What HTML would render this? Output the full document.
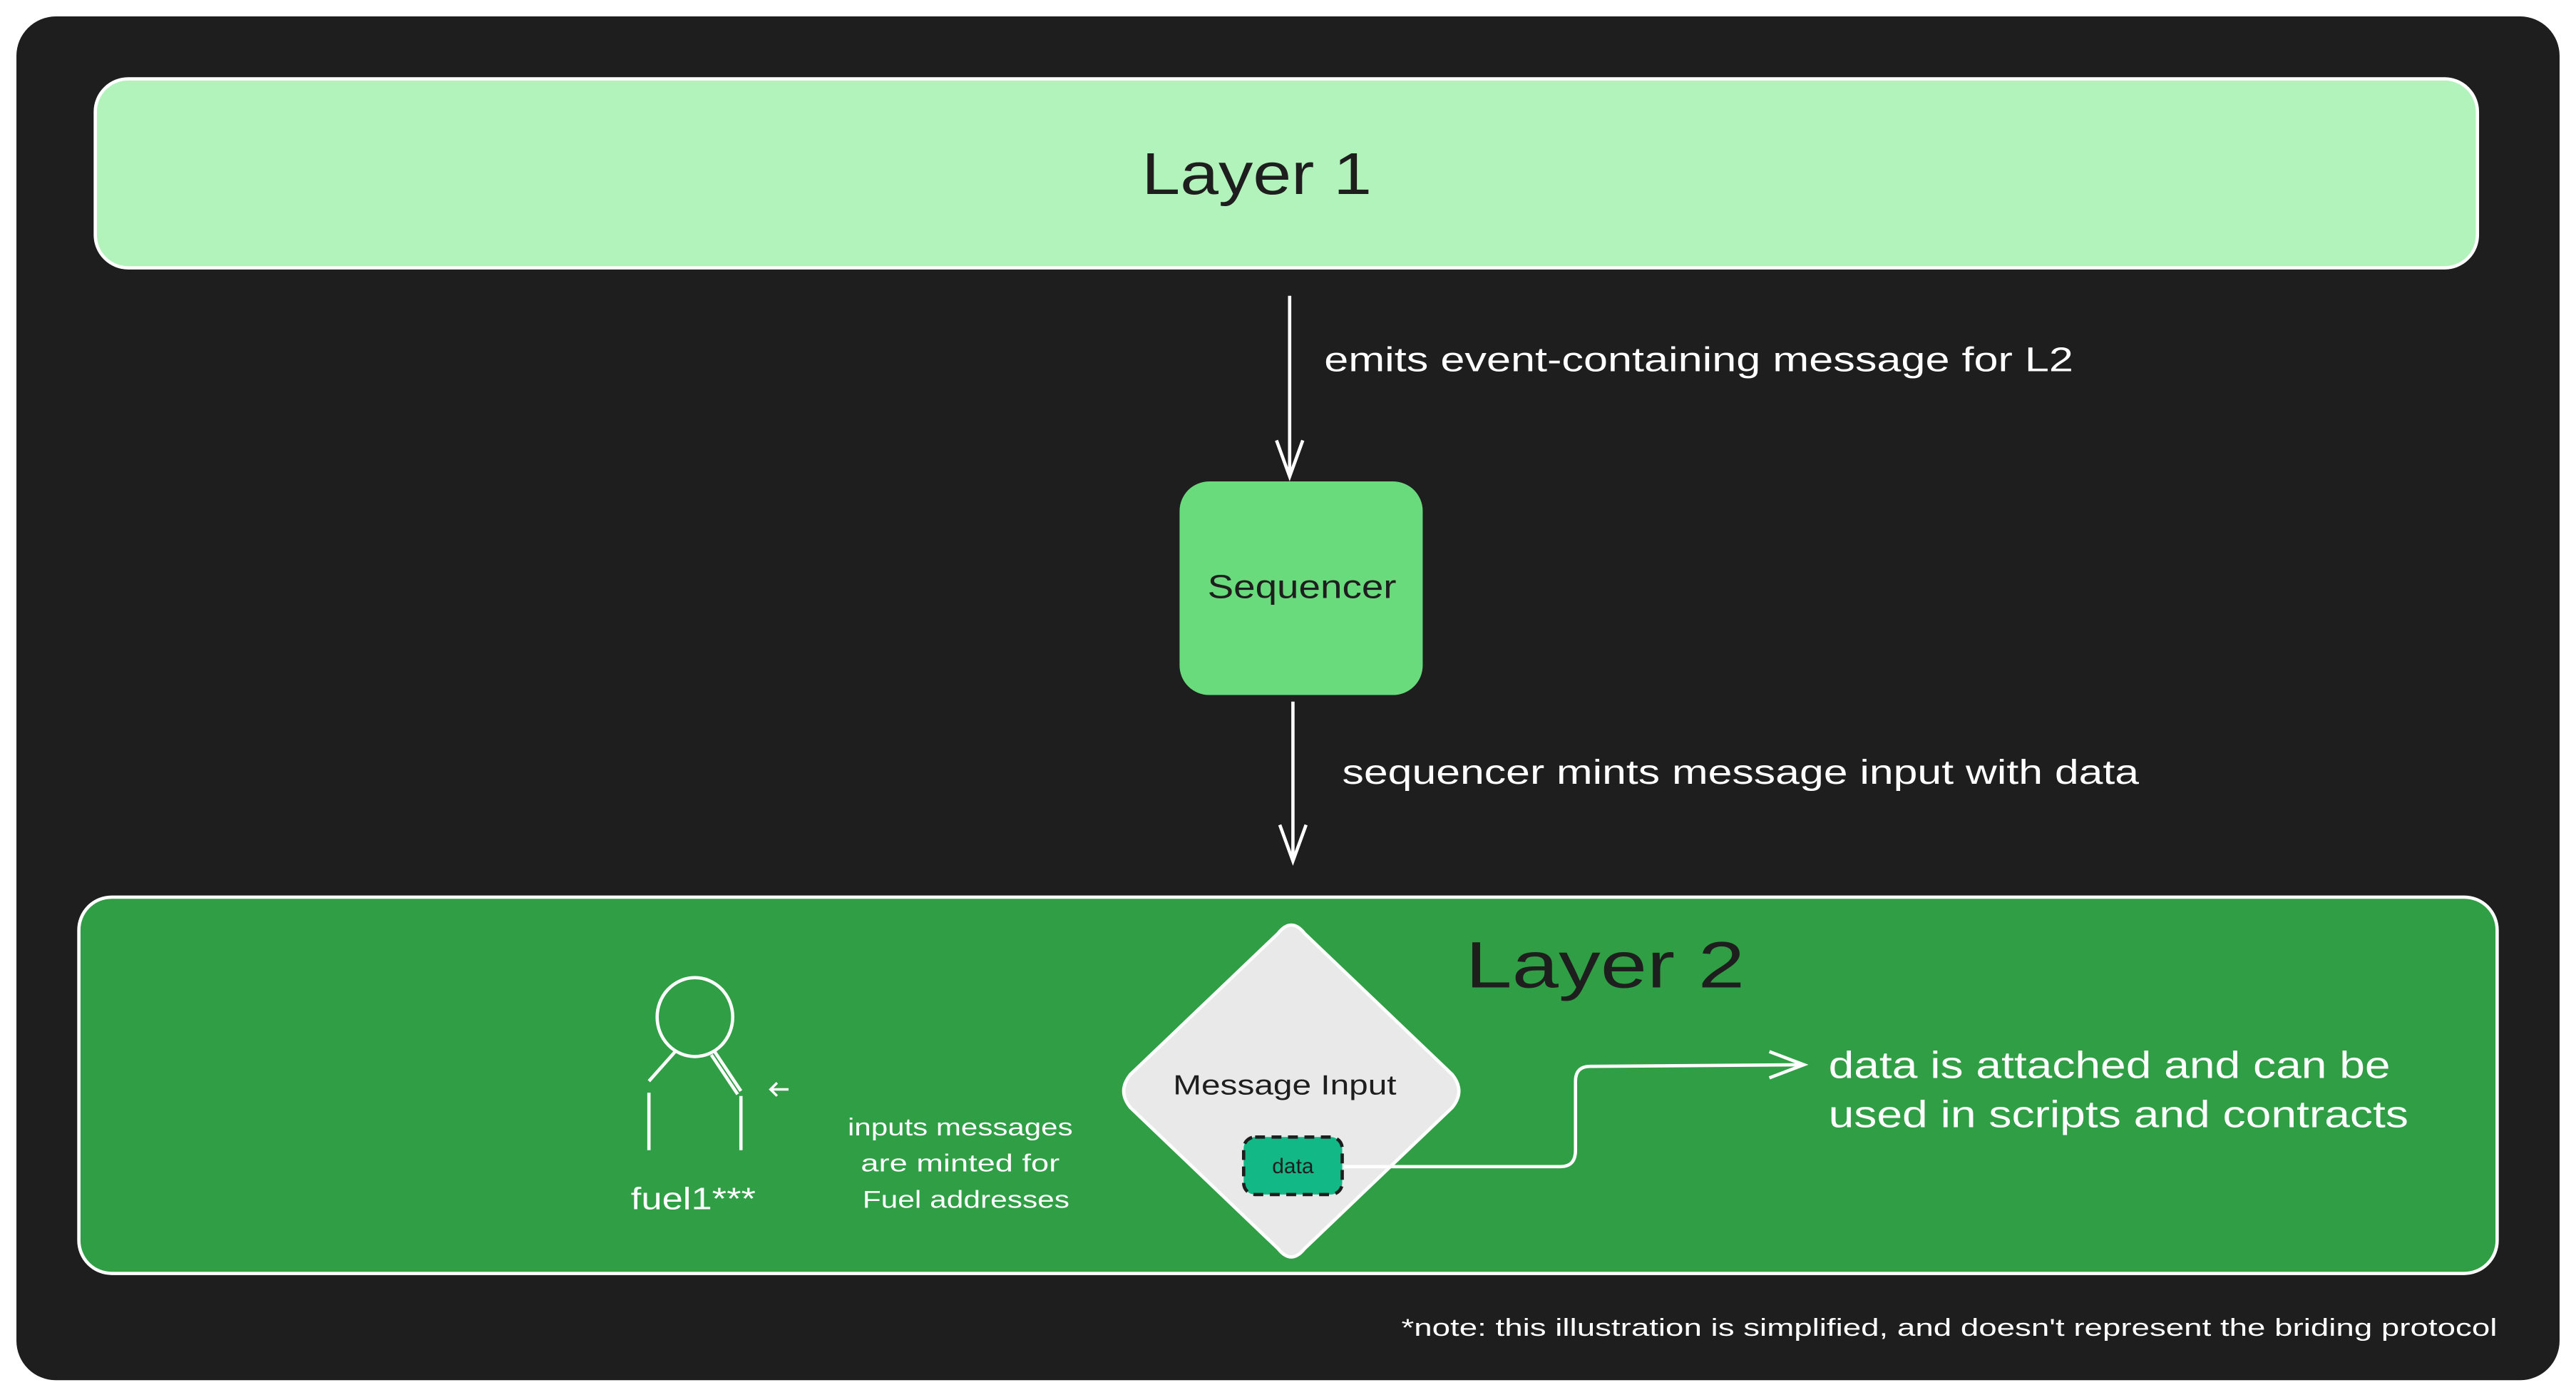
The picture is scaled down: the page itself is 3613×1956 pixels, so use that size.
<!DOCTYPE html>
<html><head><meta charset="utf-8"><style>
html,body{margin:0;padding:0;background:#fff;}
svg{display:block;}
text{font-family:"Liberation Sans",sans-serif;}
</style></head><body>
<svg width="3613" height="1956" viewBox="0 0 1568 849" preserveAspectRatio="none" xmlns="http://www.w3.org/2000/svg">
<rect x="0" y="0" width="1568" height="849" fill="#ffffff"/>
<rect x="10" y="10" width="1548" height="830" rx="24" fill="#1e1e1e"/>
<!-- Layer 1 -->
<rect x="58" y="48" width="1450" height="115" rx="20" fill="#b2f2bb" stroke="#ffffff" stroke-width="2"/>
<text x="695" y="118" font-size="36" fill="#1e1e1e" textLength="140" lengthAdjust="spacingAndGlyphs">Layer 1</text>
<!-- arrow 1 -->
<line x1="785" y1="180" x2="785" y2="290" stroke="#fff" stroke-width="2"/>
<polyline points="777,268 785,290 793,268" fill="none" stroke="#fff" stroke-width="2"/>
<text x="806" y="226" font-size="21" fill="#ffffff" textLength="456" lengthAdjust="spacingAndGlyphs">emits event-containing message for L2</text>
<!-- Sequencer -->
<rect x="718" y="293" width="148" height="130" rx="18" fill="#69db7c"/>
<text x="735" y="364" font-size="20" fill="#1e1e1e" textLength="115" lengthAdjust="spacingAndGlyphs">Sequencer</text>
<!-- arrow 2 -->
<line x1="787" y1="427" x2="787" y2="524" stroke="#fff" stroke-width="2"/>
<polyline points="779,502 787,524 795,502" fill="none" stroke="#fff" stroke-width="2"/>
<text x="817" y="477" font-size="21" fill="#ffffff" textLength="485" lengthAdjust="spacingAndGlyphs">sequencer mints message input with data</text>
<!-- Layer 2 -->
<rect x="48" y="546" width="1472" height="229" rx="20" fill="#2f9e44" stroke="#ffffff" stroke-width="2"/>
<text x="892" y="601" font-size="40" fill="#1e1e1e" textLength="170" lengthAdjust="spacingAndGlyphs">Layer 2</text>
<!-- diamond -->
<path d="M778,568 Q786,558 794,568 L884,654 Q892,664 884,674 L794,760 Q786,770 778,760 L688,674 Q680,664 688,654 Z" fill="#e9e9e9" stroke="#fff" stroke-width="2"/>
<text x="714" y="666" font-size="17" fill="#1e1e1e" textLength="136" lengthAdjust="spacingAndGlyphs">Message Input</text>
<rect x="757" y="692" width="60" height="35" rx="7" fill="#12b886" stroke="#1e1e1e" stroke-width="2" stroke-dasharray="6 4"/>
<text x="787" y="714" font-size="13" fill="#1e1e1e" text-anchor="middle">data</text>
<!-- connector -->
<path d="M818,710 L950,710 Q959,710 959,700 L959,658 Q959,649 968,649 L1098,648" fill="none" stroke="#fff" stroke-width="2"/>
<polyline points="1077,640 1098,648 1077,656" fill="none" stroke="#fff" stroke-width="2"/>
<text x="1113" y="656" font-size="23" fill="#ffffff" textLength="342" lengthAdjust="spacingAndGlyphs">data is attached and can be</text>
<text x="1113" y="686" font-size="23" fill="#ffffff" textLength="353" lengthAdjust="spacingAndGlyphs">used in scripts and contracts</text>
<!-- person -->
<ellipse cx="423" cy="619" rx="23" ry="24" fill="none" stroke="#fff" stroke-width="2"/>
<path d="M411,640 L395,658 M435,640 L451,664 M433,642 L449,666 M395,665 L395,700 M451,667 L451,700" stroke="#fff" stroke-width="2" fill="none"/>
<path d="M480,663 L469,663 M473,659 L469,663 L473,667" stroke="#fff" stroke-width="1.5" fill="none"/>
<text x="384" y="736" font-size="19" fill="#ffffff" textLength="76" lengthAdjust="spacingAndGlyphs">fuel1***</text>
<text x="516" y="691" font-size="15" fill="#ffffff" textLength="137" lengthAdjust="spacingAndGlyphs">inputs messages</text>
<text x="524" y="713" font-size="15" fill="#ffffff" textLength="121" lengthAdjust="spacingAndGlyphs">are minted for</text>
<text x="525" y="735" font-size="15" fill="#ffffff" textLength="126" lengthAdjust="spacingAndGlyphs">Fuel addresses</text>
<!-- footnote -->
<text x="853" y="813" font-size="15" fill="#ffffff" textLength="667" lengthAdjust="spacingAndGlyphs">*note: this illustration is simplified, and doesn't represent the briding protocol</text>
</svg>
</body></html>
